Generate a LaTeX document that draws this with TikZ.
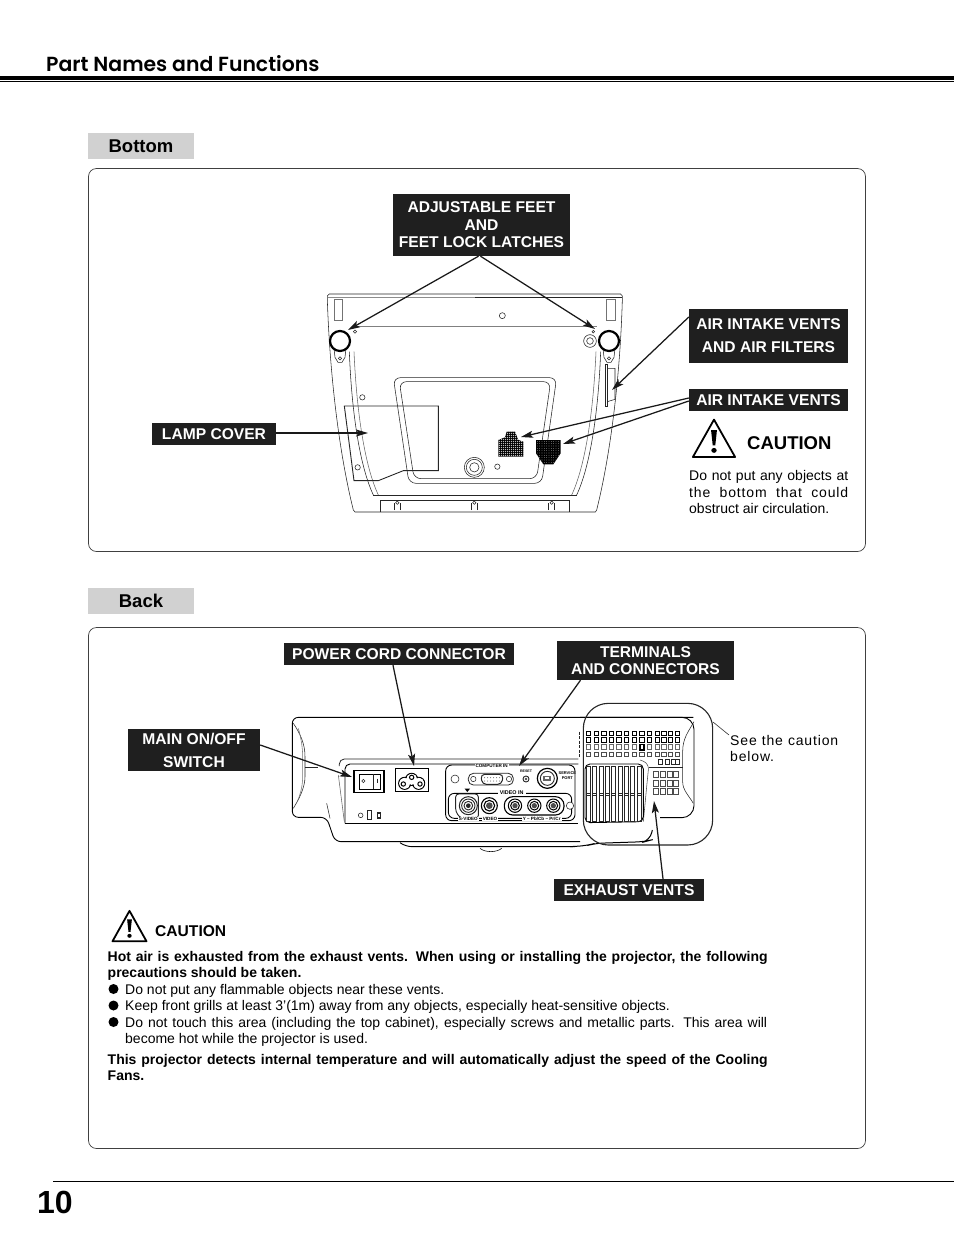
\documentclass[tikz,border=0pt]{standalone}
\usepackage{fontspec}
\setmainfont{Liberation Sans}
\newfontfamily\titlefont{Poppins SemiBold}
\usetikzlibrary{arrows.meta}
\newcommand{\jl}[2]{\makebox[#1pt][s]{#2}}
\newcommand{\lsp}[1]{{\addfontfeature{LetterSpace=6}#1}}
\tikzset{
 lbl/.style={fill=black!88,text=white,font=\fontsize{15.6}{17.5}\selectfont\bfseries,align=center,inner sep=0pt},
 head/.style={fill=black!18,font=\fontsize{18.5}{20}\selectfont\bfseries,inner sep=0pt,minimum width=106pt,minimum height=26pt},
 panel/.style={draw=black!75,line width=.7pt,rounded corners=8pt},
 conn/.style={line width=1.25pt,draw=black!90,-{Stealth[length=12pt,width=7pt,inset=2.5pt]}},
 txt/.style={font=\fontsize{14}{16.4}\selectfont,align=left,inner sep=0pt,anchor=north west},
 thin line/.style={line width=.55pt,black!85},
 z1/.style={shift={(310,280)},x=.33333pt,y=-.33333pt},
 z2/.style={shift={(280,700)},x=.33333pt,y=-.33333pt},
 z3/.style={shift={(560,695)},x=.33333pt,y=-.33333pt},
 z4/.style={shift={(440,755)},x=.33333pt,y=-.33333pt},
 tiny/.style={font=\fontsize{4.6}{5}\selectfont\bfseries,inner sep=0pt},
 warntri/.pic={
  \draw[line width=1.8pt,line join=round,fill=white] (0,-17) -- (-16.5,15) -- (16.5,15) -- cycle;
  \fill (-2.3,-8) -- (2.3,-8) -- (1,5) -- (-1,5) -- cycle;
  \fill (0,9.3) circle (2.1);
 }
}
\begin{document}
\begin{tikzpicture}[x=1pt,y=-1pt]
\useasboundingbox (0,0) rectangle (954,1235);
\fill[white] (0,0) rectangle (954,1235);
% page furniture
\node[anchor=base west,inner sep=0pt,font=\titlefont\fontsize{20.4}{26}\selectfont] (title) at (46,71) {Part Names and Functions};
\draw[line width=3.6pt] (0,78) -- (954,78);
\draw[line width=.9pt] (0,81.5) -- (954,81.5);
\draw[line width=.7pt] (53,1181.5) -- (954,1181.5);
\node[anchor=base west,inner sep=0pt,font=\fontsize{32}{36}\selectfont\bfseries] (pageno) at (37,1213) {10};
\node[head] (hbottom) at (141,146) {Bottom};
\node[head] (hback) at (141,601) {Back};
\draw[panel] (88.5,168.5) rectangle (865.5,551.5);
\draw[panel] (88.5,627.5) rectangle (865.5,1148.5);

% ---------- projector bottom ----------
\begin{scope}[z1,thin line]
 \draw (52,60) -- (52,48) -- (58,42) -- (932,42) -- (937,48) -- (937,60);
 \draw[line width=1.3pt,black!45] (55,52) -- (495,52);
 \draw[line width=1.3pt] (495,52) -- (937,52);
 \draw (52,60) .. controls (60,300) and (90,530) .. (130,690) -- (135,696) -- (856,696) -- (860,690) .. controls (900,530) and (930,300) .. (937,60);
 \draw[black!55] (73,58) rectangle (98,122);
 \draw[black!55] (890,58) rectangle (915,122);
 \draw[black!50,line width=.4pt] (130,138) -- (860,138);
 \draw (118,215) .. controls (125,400) and (150,560) .. (190,645);
 \draw[black!60] (132,215) .. controls (140,400) and (165,560) .. (205,645);
 \draw (872,215) .. controls (865,400) and (840,560) .. (800,645);
 \draw[black!60] (858,215) .. controls (850,400) and (825,560) .. (785,645);
 \draw (190,645) -- (800,645);
 \draw[rounded corners=7pt] (250,293) -- (740,293) -- (695,610) -- (297,610) -- cycle;
 \draw[rounded corners=7pt] (268,305) -- (722,305) -- (680,596) -- (312,596) -- cycle;
 \draw[line width=.9pt,black!85] (103,378) -- (385,378) -- (385,572) -- (280,572) -- (205,602) -- (132,602) -- cycle;
 \draw (493,562) circle (30) (493,562) circle (24) (493,562) circle (14);
 \draw (577,107) circle (9) (157,352) circle (8) (143,562) circle (8) (562,560) circle (8);
 \draw (840,183) circle (19) (840,183) circle (10);
 \draw (135,155) circle (5) (850,155) circle (4);
 \draw[line width=.9pt] (212,696) -- (212,662) -- (778,662) -- (778,696);
 \foreach \tx in {262,493,725}{
  \draw (\tx,668) circle (5);
  \draw (\tx-9,690) -- (\tx-9,670) (\tx+9,690) -- (\tx+9,670);
 }
 \draw[line width=1pt] (885,253) rectangle (892,378);
 \draw (892,265) -- (915,265) -- (915,358) -- (892,365);
 \foreach \fx in {90,897}{
  \draw[fill=white] (\fx-18,205) -- (\fx-15,232) -- (\fx-6,247) -- (\fx+6,247) -- (\fx+15,232) -- (\fx+18,205);
  \draw (\fx,235) circle (5);
  \draw[line width=2.2pt,black,fill=white] (\fx,183) circle (30);
 }
 % vents
 \begin{scope}
  \clip (565,480) -- (585,472) -- (590,455) -- (615,455) -- (625,480) -- (640,485) -- (640,530) -- (565,530) -- cycle;
  \fill[black] (560,450) rectangle (645,535);
  \foreach \gx in {568,574,...,640}{\foreach \gy in {455,461,...,532}{\fill[white] (\gx,\gy) circle (1.6);}}
 \end{scope}
 \begin{scope}
  \clip (678,480) -- (752,480) -- (752,520) -- (730,553) -- (700,553) -- (678,520) -- cycle;
  \fill[black] (675,478) rectangle (755,556);
  \foreach \gx in {682,689,...,752}{\foreach \gy in {484,491,...,554}{\fill[white] (\gx,\gy) circle (.9);}}
 \end{scope}
\end{scope}

% ---------- projector back ----------
\begin{scope}[z2,thin line]
 \draw[line width=.9pt,black,rounded corners=6pt] (1240,52) -- (37,52) -- (37,352) -- (140,352) -- (165,425) -- (900,425);
 \draw (40,70) .. controls (60,100) and (75,130) .. (75,170) -- (75,230) .. controls (75,265) and (55,300) .. (40,325);
 \draw[black!55] (55,85) .. controls (62,110) and (68,140) .. (68,170) -- (68,230) .. controls (68,260) and (60,285) .. (52,305);
 \draw (75,202) -- (115,202);
 \draw (140,310) -- (150,355);
 \draw[line width=.9pt,black,rounded corners=6pt] (360,428) -- (378,440) -- (885,440);
 \draw[black] (600,445) .. controls (615,458) and (650,458) .. (665,445);
 \draw[line width=.8pt,rounded corners=5pt] (178,198) -- (178,177) -- (895,177);
 \draw[line width=.9pt,black,rounded corners=5pt] (195,370) -- (195,192) -- (895,192);
 \draw[line width=.9pt,black] (195,370) -- (895,370);
 \draw[black!60] (175,225) -- (193,365);
 % switch
 \draw[line width=1.2pt,black] (222,212) rectangle (312,278);
 \draw[line width=.9pt,black] (238,222) rectangle (300,268);
 \draw[line width=.6pt] (281,222) -- (281,268);
 \draw (250,243) circle (5);
 \draw[line width=1pt] (292,236) -- (292,250);
 % outlet
 \draw[line width=1.2pt,black] (347,205) rectangle (445,275);
 \draw[line width=1.1pt,black] (395,238) circle (18) (374,250) circle (18) (416,250) circle (18);
 \fill[white] (395,238) circle (16.5) (374,250) circle (16.5) (416,250) circle (16.5);
 \draw[line width=1pt,black] (395,232) circle (6.5) (370,252) circle (6.5) (420,252) circle (6.5);
 % misc
 \draw (242,346) circle (7);
 \draw[line width=.8pt] (262,332) rectangle (273,358);
 \fill (290,336) rectangle (304,356);
 \fill[white] (294,341) rectangle (300,350);
\end{scope}
\begin{scope}[z4,thin line]
 \draw[line width=.9pt,black,rounded corners=6pt] (17,197) rectangle (405,30);
 \node[tiny,fill=white,text=black,inner xsep=1pt] (lcomp) at (155,33) {COMPUTER IN};
 \draw (45,72) circle (12);
 \draw[rounded corners=5pt,line width=.8pt] (85,55) -- (220,55) -- (220,90) -- (85,90) -- cycle;
 \draw[fill=white,line width=1pt,rounded corners=4pt] (122,58) -- (190,58) -- (185,88) -- (127,88) -- cycle;
 \draw (100,72) circle (8) (207,72) circle (8);
 \foreach \dx in {134,143,...,180}{\fill[black!70] (\dx,68) circle (1.5) (\dx,78) circle (1.5);}
 \node[tiny,text=black,font=\fontsize{3.6}{4}\selectfont\bfseries] (lreset) at (258,48) {RESET};
 \draw[line width=.9pt] (258,72) circle (9);
 \fill[black!70] (258,72) circle (4);
 \draw[line width=1.2pt,black] (322,70) circle (30);
 \draw[line width=.9pt] (322,70) circle (21);
 \fill[black!60] (310,62) rectangle (334,78);
 \fill[white] (316,67) rectangle (328,73);
 \node[tiny,text=black,align=center,font=\fontsize{4}{5}\selectfont\bfseries] (lserv) at (382,62) {SERVICE\\PORT};
 \draw[line width=.9pt,black,rounded corners=6pt] (25,190) rectangle (395,115);
 \node[tiny,fill=white,text=black,inner xsep=2pt,font=\fontsize{5.4}{6}\selectfont\bfseries] (lvid) at (215,114) {VIDEO IN};
 \fill[black] (74,101) -- (90,101) -- (82,111) -- cycle;
 \draw[line width=.9pt,rounded corners=3pt] (47,117) -- (47,170) -- (62,190) -- (115,190) -- (115,117) -- cycle;
 \draw[fill=white,line width=1pt] (85,152) circle (27);
 \draw[line width=.9pt] (85,152) circle (20) (85,152) circle (13);
 \fill (85,152) circle (7);
 \draw[line width=1.1pt,black] (148,152) circle (24) (148,152) circle (16);
 \fill[black!70] (148,152) circle (10);
 \draw[line width=1.1pt,black,rounded corners=8.5pt] (193,125) rectangle (372,180);
 \foreach \cx in {225,283,340}{
  \draw[line width=1pt,black] (\cx,152) circle (20) (\cx,152) circle (13);
  \fill[black!70] (\cx,152) circle (8);
 }
 \draw[fill=white] (390,152) circle (11);
 \node[tiny,fill=white,text=black,inner xsep=1pt] (lsv) at (85,192) {S-VIDEO};
 \node[tiny,fill=white,text=black,inner xsep=1pt] (lv) at (150,192) {VIDEO};
 \node[tiny,fill=white,text=black,inner xsep=1pt] (ly) at (305,192) {Y  --  Pb/Cb --  Pr/Cr};
\end{scope}
\begin{scope}[z3,thin line]
 \draw[line width=.9pt,black,rounded corners=12pt] (60,67) -- (402,67) -- (402,368) -- (300,368);
 \draw[dash pattern=on 3pt off 1.5pt] (58,110) -- (58,190);
 \draw (402,80) .. controls (385,110) and (368,130) .. (368,170) -- (368,260) .. controls (368,285) and (385,300) .. (400,325);
 \draw (268,218) -- (368,218);
 \draw[line width=1pt,black,rounded corners=8pt] (277,405) -- (270,436) -- (255,440) -- (105,445) -- (80,452) -- (30,455);
 \draw[black!70,rounded corners=6pt] (240,195) -- (267,205) -- (260,275) -- (250,380);
 \draw[line width=.9pt,black,rounded corners=5pt] (75,383) -- (75,207) -- (250,207) -- (250,380) -- cycle;
 \foreach \sx in {79,98,117,136,155,174,193,212,231}{
  \draw[line width=.8pt] (\sx,215) rectangle (\sx+12,380);
  \draw[line width=.6pt] (\sx,295) -- (\sx+12,295) (\sx,300) -- (\sx+12,300);
 }
 \foreach \sx in {79,102,125,147,170,193,216,239,262,285,305,325,346}{
  \draw[line width=.9pt,black] (\sx,108) rectangle (\sx+13,121);
  \draw[line width=.9pt,black] (\sx,128) rectangle (\sx+13,141);
  \draw[line width=.6pt,black!60] (\sx,149) rectangle (\sx+13,162);
  \draw[line width=.6pt,black!70] (\sx,171) rectangle (\sx+13,184);
 }
 \foreach \sx in {295,315,333,347}{\draw[line width=.7pt] (\sx,193) rectangle (\sx+12,207);}
 \foreach \ry in {230,256,280}{
  \foreach \sx in {280,301,321,341}{\draw[line width=.6pt,black!70] (\sx,\ry) rectangle (\sx+15,\ry+17);}
 }
 \draw[line width=1.2pt,black] (240,148) rectangle (252,165);
 \draw[line width=1.1pt,black!85,rounded corners=25pt] (70,25) rectangle (458,450);
\end{scope}
% ---------- targets ----------
\coordinate (tfootl) at (348,330);
\coordinate (tfootr) at (595,329);
\coordinate (tfilter) at (612,390);
\coordinate (tventa) at (521,437);
\coordinate (tventb) at (563,444);
\coordinate (tlamp) at (368,433);
\coordinate (tcord) at (414,766);
\coordinate (tterm) at (519,766);
\coordinate (tswitch) at (352,777);
\coordinate (texh) at (654,801);
\coordinate (cstart) at (713,722);
\coordinate (cend) at (729,735);

% ---------- labels ----------
\node[lbl,minimum width=177pt,minimum height=62pt] (adj) at (481.5,225) {ADJUSTABLE FEET\\AND\\FEET LOCK LATCHES};
\node[lbl,minimum width=159pt,minimum height=54pt,font=\fontsize{15.6}{23}\selectfont\bfseries] (filt) at (768.5,336) {AIR INTAKE VENTS\\AND AIR FILTERS};
\node[lbl,minimum width=159pt,minimum height=22pt] (vents) at (768.5,400) {AIR INTAKE VENTS};
\node[lbl,minimum width=124pt,minimum height=22pt] (lamp) at (214,434) {LAMP COVER};
\node[lbl,minimum width=230pt,minimum height=22pt] (cord) at (399,654) {POWER CORD CONNECTOR};
\node[lbl,minimum width=177pt,minimum height=39pt] (term) at (645.5,660.5) {TERMINALS\\AND CONNECTORS};
\node[lbl,minimum width=132pt,minimum height=42pt,font=\fontsize{15.6}{23}\selectfont\bfseries] (mainsw) at (194,750) {MAIN ON/OFF\\SWITCH};
\node[lbl,minimum width=150pt,minimum height=22pt] (exh) at (629,890) {EXHAUST VENTS};

% ---------- connectors ----------
\draw[conn] (adj.south) ++(-3,0) coordinate (adja) -- (tfootl);
\draw[conn] (adj.south) ++(-1,0) coordinate (adjb) -- (tfootr);
\draw[conn] (filt.west) ++(0,-19) coordinate (filts) -- (tfilter);
\draw[conn] (vents.west) ++(0,-2) coordinate (va) -- (tventa);
\draw[conn] (vents.west) ++(0,1) coordinate (vb) -- (tventb);
\draw[conn] (lamp.east) ++(0,-1) coordinate (ls) -- (tlamp);
\draw[conn] (cord.south) ++(-6,0) coordinate (cs) -- (tcord);
\draw[conn] (term.south) ++(-65,0) coordinate (ts) -- (tterm);
\draw[conn] (mainsw.east) ++(0,-5) coordinate (ms) -- (tswitch);
\draw[conn] (exh.north) ++(34,0) coordinate (es) -- (texh);
\draw[line width=.6pt,black!80] (cstart) -- (cend);

% ---------- caution blocks ----------
\pic[transform shape,xscale=1.28,yscale=1.17] at (714,439.5) {warntri};
\node[anchor=base west,inner sep=0pt,font=\fontsize{18.5}{22}\selectfont\bfseries] (caut1) at (747,449) {CAUTION};
\node[txt] (ct1) at (689,470.5) {\jl{159}{Do not put any objects at}\\\jl{159}{\lsp{the  bottom  that  could}}\\obstruct air circulation.};
\node[txt] (see) at (730,735) {\jl{108}{\lsp{See  the  caution}}\\\lsp{below.}};
\pic[transform shape,xscale=1.03,yscale=.95] at (129.5,927) {warntri};
\node[anchor=base west,inner sep=0pt,font=\fontsize{15.6}{18}\selectfont\bfseries] (caut2) at (155,936) {CAUTION};
\node[txt,font=\fontsize{14}{16.4}\selectfont\bfseries] (b1) at (107.5,951) {\jl{660}{Hot air is exhausted from the exhaust vents.  When using or installing the projector, the following}\\precautions should be taken.};
\node[txt,anchor=north west] (b2) at (125,984) {Do not put any flammable objects near these vents.\\Keep front grills at least 3’(1m) away from any objects, especially heat-sensitive objects.\\\jl{642}{Do not touch this area (including the top cabinet), especially screws and metallic parts.  This area will}\\become hot while the projector is used.};
\foreach \by in {989,1005.5,1022}{\fill (113.5,\by) circle (5);}
\node[txt,font=\fontsize{14}{16.4}\selectfont\bfseries] (b3) at (107.5,1054) {\jl{660}{This projector detects internal temperature and will automatically adjust the speed of the Cooling}\\Fans.};
\end{tikzpicture}
\end{document}
